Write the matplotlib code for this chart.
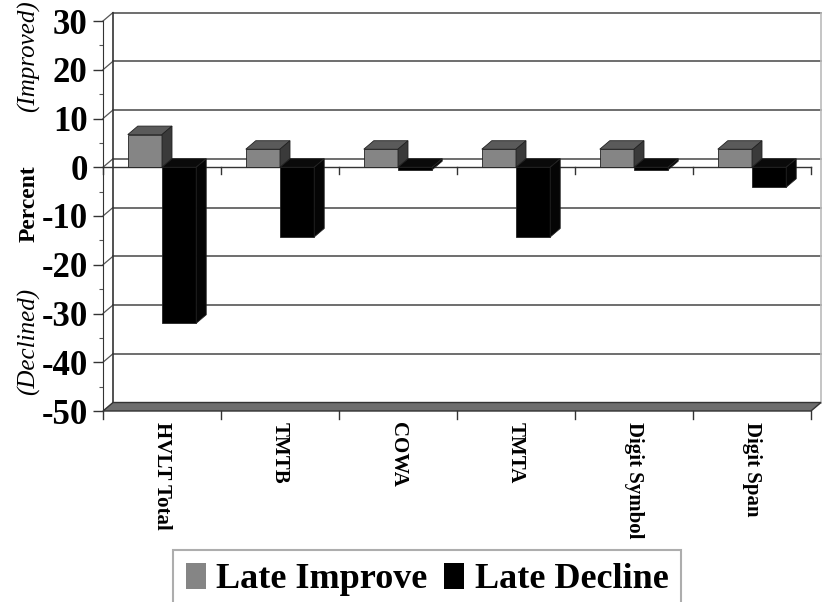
import matplotlib.pyplot as plt
from matplotlib.patches import Polygon, Patch

plt.rcParams['font.family'] = ['Liberation Serif', 'DejaVu Serif']

categories = ['HVLT Total', 'TMTB', 'COWA', 'TMTA', 'Digit Symbol', 'Digit Span']
late_improve = [6.7, 3.7, 3.7, 3.7, 3.7, 3.7]
late_decline = [-32, -14.3, -0.5, -14.3, -0.5, -4.1]
yticks = [-50, -40, -30, -20, -10, 0, 10, 20, 30]

W_PX, H_PX = 830, 602
fig = plt.figure(figsize=(8.3, 6.02), dpi=100)

# front plane of the 3d box, in pixels
left_px, right_px, top_px, bot_px = 103, 811, 21, 411
ax = fig.add_axes([left_px / W_PX, 1 - bot_px / H_PX,
                   (right_px - left_px) / W_PX, (bot_px - top_px) / H_PX])
xmin, xmax, ymin, ymax = -0.5, 5.5, -50, 30
ax.set_xlim(xmin, xmax)
ax.set_ylim(ymin, ymax)

# depth of the box, pixel offset converted to data units
dx = 10 * (xmax - xmin) / (right_px - left_px)
dy = 8.5 * (ymax - ymin) / (bot_px - top_px)

grid_col = '#555555'
edge_col = '#222222'

# back wall gridlines + side wall diagonals
for y in yticks:
    if y == ymin:
        continue
    ax.plot([xmin + dx, xmax + dx], [y + dy, y + dy], color=grid_col, lw=1.2,
            clip_on=False, zorder=1)
    ax.plot([xmin, xmin + dx], [y, y + dy], color=grid_col, lw=0.9,
            clip_on=False, zorder=1)
ax.plot([xmin + dx, xmin + dx], [ymin + dy, ymax + dy], color='#333333', lw=1.2,
        clip_on=False, zorder=1)
ax.plot([xmax + dx, xmax + dx], [ymin + dy, ymax + dy], color='#bbbbbb', lw=1.2,
        clip_on=False, zorder=1)

# floor slab
floor = Polygon([(xmin, ymin), (xmax, ymin), (xmax + dx, ymin + dy), (xmin + dx, ymin + dy)],
                closed=True, facecolor='#6e6e6e', edgecolor='#333333', lw=1.0,
                clip_on=False, zorder=2)
ax.add_patch(floor)

# front zero line with category ticks
ax.plot([xmin, xmax], [0, 0], color='#333333', lw=1.0, clip_on=False, zorder=2)
tick0 = 7 * (ymax - ymin) / (bot_px - top_px)
for b in [i - 0.5 for i in range(len(categories) + 1)]:
    ax.plot([b, b], [0, -tick0], color='#333333', lw=1.0, clip_on=False, zorder=2)
    ax.plot([b, b], [ymin, ymin - 1.2 * tick0], color='#333333', lw=1.0,
            clip_on=False, zorder=2)


def bar3d(c, w, v, front, top, side):
    x0, x1 = c - w / 2, c + w / 2
    lo, hi = min(0, v), max(0, v)
    faces = [
        ([(x0, lo), (x1, lo), (x1, hi), (x0, hi)], front),
        ([(x0, hi), (x1, hi), (x1 + dx, hi + dy), (x0 + dx, hi + dy)], top),
        ([(x1, lo), (x1 + dx, lo + dy), (x1 + dx, hi + dy), (x1, hi)], side),
    ]
    for pts, col in faces:
        ax.add_patch(Polygon(pts, closed=True, facecolor=col, edgecolor=edge_col,
                             lw=0.6, clip_on=False, zorder=3))


bw = 0.29
for i in range(len(categories)):
    bar3d(i - bw / 2, bw, late_improve[i], '#858585', '#5a5a5a', '#3a3a3a')
    bar3d(i + bw / 2, bw, late_decline[i], '#000000', '#0a0a0a', '#050505')

# axes styling
for s in ['top', 'right', 'bottom']:
    ax.spines[s].set_visible(False)
ax.spines['left'].set_color('#333333')
ax.spines['left'].set_zorder(2)
ax.set_yticks(yticks)
ax.set_yticklabels([str(t) for t in yticks], fontsize=25, fontweight='bold')
ax.set_yticks(range(-45, 30, 10), minor=True)
ax.tick_params(axis='y', which='major', length=7, width=1, color='#333333', pad=4)
ax.tick_params(axis='y', which='minor', length=3, width=0.8, color='#555555')
ax.set_xticks(range(len(categories)))
ax.set_xticklabels(categories, rotation=-90, fontsize=15, fontweight='bold',
                   va='top', ha='center')
ax.tick_params(axis='x', length=0, pad=8)
ax.patch.set_visible(False)

fig.text(29 / W_PX, 1 - 204 / H_PX, 'Percent', rotation=90, fontsize=17,
         fontweight='bold', ha='center', va='center')
fig.text(29 / W_PX, 1 - 56 / H_PX, '(Improved)', rotation=90, fontsize=18,
         fontstyle='italic', ha='center', va='center')
fig.text(29 / W_PX, 1 - 341 / H_PX, '(Declined)', rotation=90, fontsize=18,
         fontstyle='italic', ha='center', va='center')

handles = [Patch(facecolor='#858585', edgecolor='none', label='Late Improve'),
           Patch(facecolor='#000000', edgecolor='none', label='Late Decline')]
leg = fig.legend(handles=handles, loc='upper left',
                 bbox_to_anchor=(173 / W_PX, 1 - 550 / H_PX),
                 bbox_transform=fig.transFigure, ncol=2, frameon=True,
                 fancybox=False, borderaxespad=0, borderpad=0.35,
                 handlelength=0.55, handleheight=0.75, handletextpad=0.3,
                 columnspacing=0.45, prop={'size': 26, 'weight': 'bold'})
leg.get_frame().set_edgecolor('#999999')
leg.get_frame().set_linewidth(1.5)

fig.savefig('out.png', dpi=100)
